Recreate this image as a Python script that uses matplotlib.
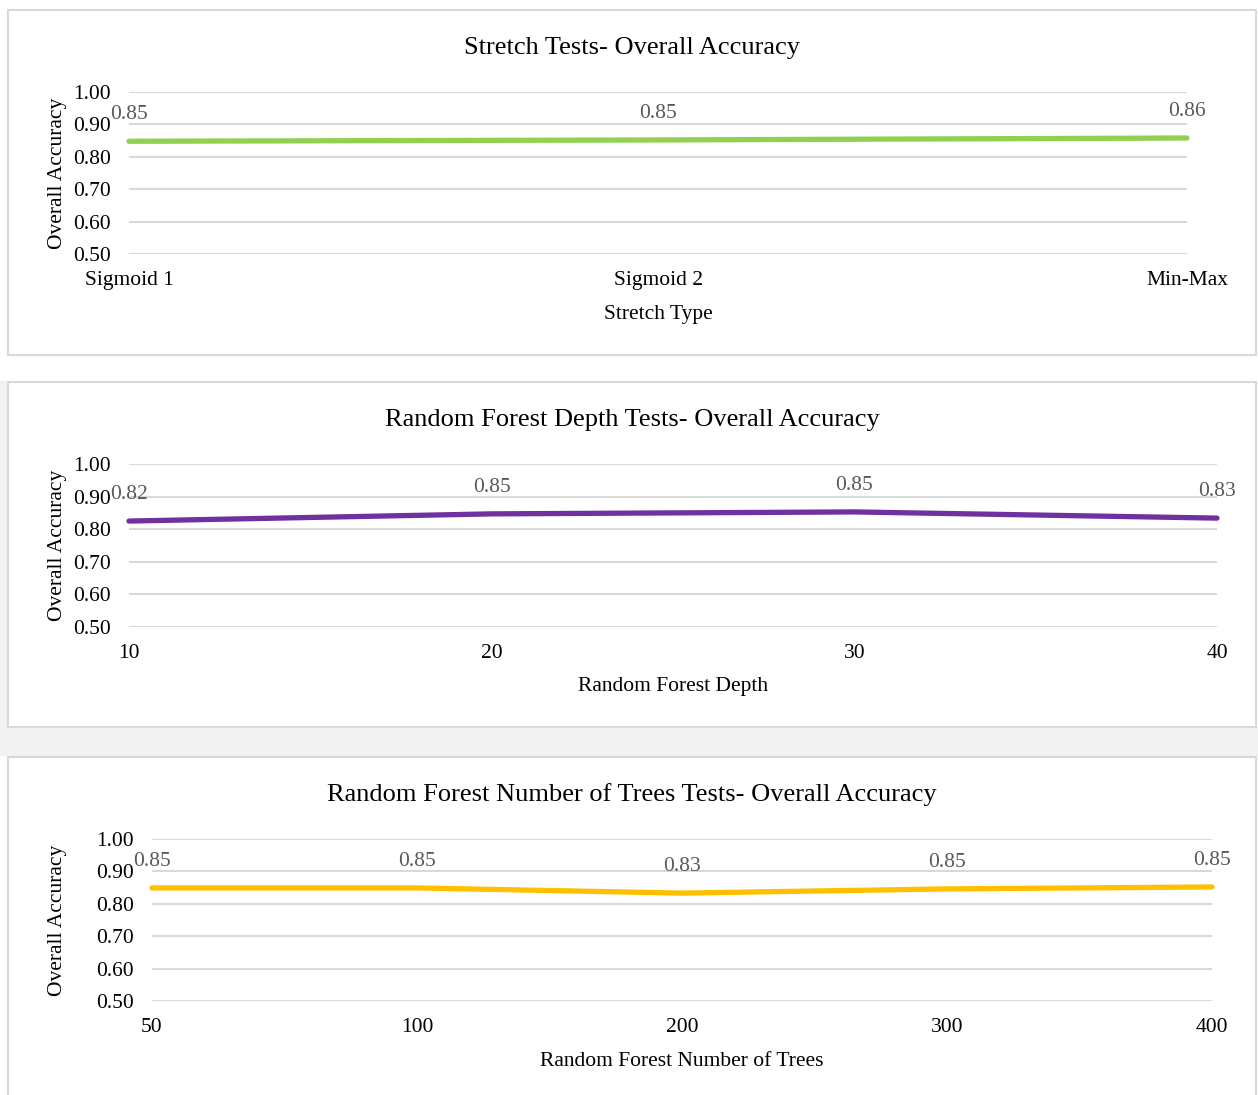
import matplotlib.pyplot as plt
from matplotlib.patches import Rectangle

plt.rcParams['font.family'] = ['Liberation Serif', 'DejaVu Serif']

W, H = 1258, 1095

# data
stretch_types = ['Sigmoid 1', 'Sigmoid 2', 'Min-Max']
stretch_acc = [0.848, 0.852, 0.858]

depths = ['10', '20', '30', '40']
depth_acc = [0.825, 0.847, 0.853, 0.834]

n_trees = ['50', '100', '200', '300', '400']
trees_acc = [0.849, 0.849, 0.833, 0.846, 0.852]

y_ticks = [0.50, 0.60, 0.70, 0.80, 0.90, 1.00]

GRID = '#d9d9d9'
BORDER = '#d9d9d9'
LABEL_GRAY = '#595959'
FS = 15.5


def px_rect(x0, y0, x1, y1):
    # pixel box (top-left origin) -> figure fraction [left, bottom, width, height]
    return [x0 / W, 1 - y1 / H, (x1 - x0) / W, (y1 - y0) / H]


fig = plt.figure(figsize=(W / 100, H / 100), dpi=100)

# background bands and panel frames
bg = fig.add_axes([0, 0, 1, 1])
bg.set_xlim(0, W)
bg.set_ylim(H, 0)
bg.axis('off')
bg.add_patch(Rectangle((0, 381), 8, 375, color='#f2f2f2', lw=0))
bg.add_patch(Rectangle((0, 727), W, 29, color='#f2f2f2', lw=0))
for top, bottom in [(10, 355), (382, 727), (757, 1120)]:
    bg.add_patch(Rectangle((8, top), 1248, bottom - top, facecolor='white',
                           edgecolor=BORDER, lw=1.5))


def draw_panel(box, cats, values, color, title, title_y, xlabel, ylabel_x, xlabel_y):
    x0, y0, x1, y1 = box
    ax = fig.add_axes(px_rect(x0, y0, x1, y1))
    xs = list(range(len(cats)))
    ax.set_xlim(0, len(cats) - 1)
    ax.set_ylim(0.5, 1.0)
    ax.set_yticks(y_ticks)
    ax.set_yticklabels([f'{v:.2f}' for v in y_ticks])
    ax.set_xticks(xs)
    ax.set_xticklabels(cats)
    ax.grid(axis='y', color=GRID, lw=1.5)
    ax.set_axisbelow(True)
    for s in ax.spines.values():
        s.set_visible(False)
    ax.tick_params(length=0, labelsize=FS, colors='black')
    ax.tick_params(axis='x', pad=12.5)
    ax.tick_params(axis='y', pad=13)
    ax.plot(xs, values, color=color, lw=3.8, solid_capstyle='round', clip_on=False)
    for x, v in zip(xs, values):
        ax.annotate(f'{v:.2f}', (x, v), xytext=(0, 19), textcoords='offset points',
                    ha='center', va='center', fontsize=FS, color=LABEL_GRAY,
                    annotation_clip=False)
    ax.set_ylabel('Overall Accuracy', fontsize=FS)
    ax.yaxis.set_label_coords((ylabel_x - x0) / (x1 - x0), 0.5)
    ax.set_xlabel(xlabel, fontsize=FS)
    ax.xaxis.set_label_coords(0.5, -(xlabel_y - y1) / (y1 - y0))
    fig.text(632 / W, 1 - title_y / H, title, ha='center', va='center', fontsize=19)
    return ax


draw_panel((129, 92, 1187, 254), stretch_types, stretch_acc, '#92D050',
           'Stretch Tests- Overall Accuracy', 48, 'Stretch Type', 67, 305)
draw_panel((129, 464, 1217, 627), depths, depth_acc, '#7030A0',
           'Random Forest Depth Tests- Overall Accuracy', 420, 'Random Forest Depth', 67, 677)
draw_panel((152, 839, 1212, 1001), n_trees, trees_acc, '#FFC000',
           'Random Forest Number of Trees Tests- Overall Accuracy', 795,
           'Random Forest Number of Trees', 67, 1052)

fig.savefig('out.png', dpi=100)
